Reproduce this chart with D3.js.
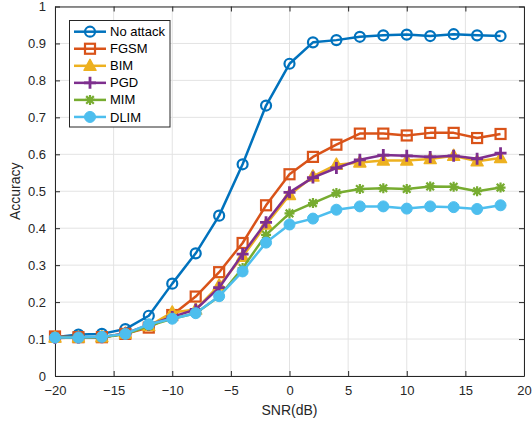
<!DOCTYPE html>
<html><head><meta charset="utf-8">
<script src="https://cdn.jsdelivr.net/npm/d3@7/dist/d3.min.js"></script>
<style>body{margin:0;background:#fff}svg{display:block;font-family:"Liberation Sans",Arial,sans-serif}</style>
</head><body><svg id="c" width="532" height="428"></svg>
<script>
const snr = [-20,-18,-16,-14,-12,-10,-8,-6,-4,-2,0,2,4,6,8,10,12,14,16,18];
const noAttack = [0.105,0.112,0.114,0.127,0.163,0.25,0.332,0.434,0.573,0.732,0.845,0.903,0.909,0.918,0.922,0.924,0.92,0.925,0.922,0.92];
const fgsm = [0.107,0.105,0.105,0.114,0.131,0.165,0.215,0.281,0.36,0.462,0.546,0.593,0.626,0.656,0.656,0.651,0.658,0.658,0.644,0.655];
const bim = [0.104,0.104,0.105,0.115,0.135,0.172,0.18,0.245,0.323,0.41,0.49,0.54,0.572,0.578,0.583,0.583,0.587,0.596,0.581,0.59];
const pgd = [0.103,0.104,0.105,0.115,0.138,0.16,0.18,0.239,0.33,0.416,0.497,0.537,0.563,0.585,0.598,0.596,0.593,0.596,0.588,0.603];
const mim = [0.104,0.104,0.105,0.113,0.136,0.155,0.17,0.215,0.292,0.382,0.44,0.468,0.495,0.506,0.508,0.506,0.513,0.512,0.5,0.51];
const dlim = [0.104,0.104,0.106,0.114,0.14,0.155,0.17,0.216,0.283,0.361,0.41,0.426,0.45,0.459,0.459,0.453,0.459,0.457,0.452,0.462];
const seriesNames = ["No attack","FGSM","BIM","PGD","MIM","DLIM"];
const seriesValues = [noAttack,fgsm,bim,pgd,mim,dlim];
const colors = ["#0072BD","#D95319","#EDB120","#7E2F8E","#77AC30","#4DBEEE"];
const markers = ["circle","square","triangle","plus","star","dot"];
const xTicks = [-20,-15,-10,-5,0,5,10,15,20];
const yTicks = [0,0.1,0.2,0.3,0.4,0.5,0.6,0.7,0.8,0.9,1];

const svg = d3.select("#c");
const L=55, R=524, T=6.5, B=376;
const x = d3.scaleLinear().domain([-20,20]).range([L,R]);
const y = d3.scaleLinear().domain([0,1]).range([B,T]);
const axCol="#262626", gridCol="#e3e3e3";

// grid
svg.append("g").selectAll("line").data(xTicks).join("line")
  .attr("x1",d=>x(d)).attr("x2",d=>x(d)).attr("y1",T).attr("y2",B).attr("stroke",gridCol).attr("stroke-width",1);
svg.append("g").selectAll("line").data(yTicks).join("line")
  .attr("x1",L).attr("x2",R).attr("y1",d=>y(d)).attr("y2",d=>y(d)).attr("stroke",gridCol).attr("stroke-width",1);

// axes
const fmt = d=>d===0?"0":(d===1?"1":d3.format(".1f")(d));
const gx = svg.append("g").attr("transform",`translate(0,${B})`)
  .call(d3.axisBottom(x).tickValues(xTicks).tickSizeInner(-5).tickSizeOuter(0).tickPadding(10).tickFormat(d3.format("d")));
const gy = svg.append("g").attr("transform",`translate(${L},0)`)
  .call(d3.axisLeft(y).tickValues(yTicks).tickSizeInner(-5).tickSizeOuter(0).tickPadding(9).tickFormat(fmt));
const gt = svg.append("g").attr("transform",`translate(0,${T})`)
  .call(d3.axisTop(x).tickValues(xTicks).tickSizeInner(-5).tickSizeOuter(0).tickFormat(""));
const gr = svg.append("g").attr("transform",`translate(${R},0)`)
  .call(d3.axisRight(y).tickValues(yTicks).tickSizeInner(-5).tickSizeOuter(0).tickFormat(""));
[gx,gy,gt,gr].forEach(g=>{
  g.select(".domain").attr("stroke",axCol).attr("stroke-width",1);
  g.selectAll(".tick line").attr("stroke",axCol);
  g.selectAll(".tick text").attr("fill",axCol).style("font-size","13px").style("font-family","'Liberation Sans',Arial,sans-serif");
});

function drawMarker(g, type, col){
  if(type==="circle") g.append("circle").attr("r",5).attr("fill","none").attr("stroke",col).attr("stroke-width",2.2);
  else if(type==="square") g.append("rect").attr("x",-5).attr("y",-5).attr("width",10).attr("height",10).attr("fill","none").attr("stroke",col).attr("stroke-width",2.2);
  else if(type==="triangle") g.append("path").attr("d","M0,-6.5L6,4.5L-6,4.5Z").attr("fill",col).attr("stroke",col).attr("stroke-width",1.5).attr("stroke-linejoin","round");
  else if(type==="plus") g.append("path").attr("d","M-6,0H6M0,-6V6").attr("stroke",col).attr("stroke-width",2.8);
  else if(type==="star") g.append("path").attr("d","M-5,0H5M0,-5V5M-3.8,-3.8L3.8,3.8M-3.8,3.8L3.8,-3.8").attr("stroke",col).attr("stroke-width",2.2);
  else if(type==="dot") g.append("circle").attr("r",5.5).attr("fill",col).attr("stroke",col).attr("stroke-width",1);
}

const line = d3.line().x((d,i)=>x(snr[i])).y(d=>y(d));
seriesValues.forEach((vals,k)=>{
  const g = svg.append("g");
  g.append("path").datum(vals).attr("d",line).attr("fill","none").attr("stroke",colors[k]).attr("stroke-width",2.5).attr("stroke-linejoin","round");
  vals.forEach((v,i)=>{
    const m = g.append("g").attr("transform",`translate(${x(snr[i])},${y(v)})`);
    drawMarker(m,markers[k],colors[k]);
  });
});

// legend
const lg = svg.append("g");
lg.append("rect").attr("x",69.5).attr("y",20.5).attr("width",100.5).attr("height",106.5).attr("fill","#fff").attr("stroke",axCol).attr("stroke-width",1);
seriesNames.forEach((n,k)=>{
  const yy = 31.7 + k*17.05;
  lg.append("line").attr("x1",74).attr("x2",106).attr("y1",yy).attr("y2",yy).attr("stroke",colors[k]).attr("stroke-width",2.5);
  drawMarker(lg.append("g").attr("transform",`translate(90,${yy})`),markers[k],colors[k]);
  lg.append("text").attr("x",110).attr("y",yy).attr("dy","0.35em").text(n).attr("fill","#000").style("font-size","13px");
});

// labels
svg.append("text").attr("x",(L+R)/2).attr("y",415).attr("text-anchor","middle").text("SNR(dB)").attr("fill",axCol).style("font-size","14px");
svg.append("text").attr("transform",`translate(20,${(T+B)/2}) rotate(-90)`).attr("text-anchor","middle").text("Accuracy").attr("fill",axCol).style("font-size","14px");
</script></body></html>
